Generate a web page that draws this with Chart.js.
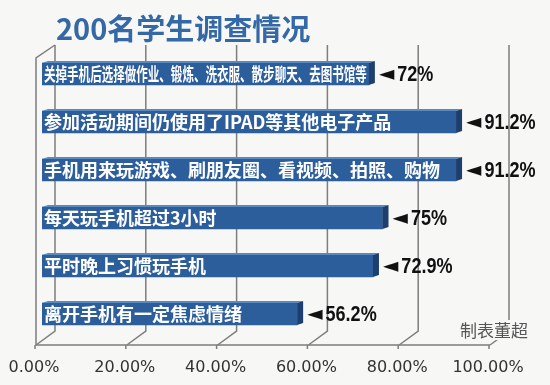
<!DOCTYPE html>
<html>
<head>
<meta charset="utf-8">
<script src="https://cdn.jsdelivr.net/npm/chart.js@4/dist/chart.umd.min.js"></script>
<style>
  html, body { margin: 0; padding: 0; background: #f7f7f5; }
  #wrap { width: 550px; height: 385px; position: relative; }
</style>
</head>
<body>
<div id="wrap"><canvas id="chart" width="550" height="385"></canvas></div>
<script>
// 数据
const title = '200名学生调查情况';
const categories = [
  '关掉手机后选择做作业、锻炼、洗衣服、散步聊天、去图书馆等',
  '参加活动期间仍使用了IPAD等其他电子产品',
  '手机用来玩游戏、刷朋友圈、看视频、拍照、购物',
  '每天玩手机超过3小时',
  '平时晚上习惯玩手机',
  '离开手机有一定焦虑情绪'
];
const values = [72, 91.2, 91.2, 75, 72.9, 56.2];
const valueLabels = ['72%', '91.2%', '91.2%', '75%', '72.9%', '56.2%'];
const tickValues = [0, 20, 40, 60, 80, 100];
const tickLabels = ['0.00%', '20.00%', '40.00%', '60.00%', '80.00%', '100.00%'];
const credit = '制表董超';

const BAR_FRONT = '#2d5e9c';
const BAR_SIDE = '#1c3f6e';
const BAR_TOP = '#5c88c0';
const GRID = '#7e7e7e';
const DEPTH_X = 6, DEPTH_Y = 2;

// 背景墙、网格线、坐标轴
const wallPlugin = {
  id: 'wall3d',
  beforeDatasetsDraw(chart) {
    const ctx = chart.ctx;
    const xs = chart.scales.x;
    const { top, bottom } = chart.chartArea;
    const backTop = top - 5;
    const backBottom = bottom - 7;
    const frontY = bottom + 7;
    ctx.save();
    ctx.strokeStyle = GRID;
    ctx.lineWidth = 1.5;
    tickValues.forEach(v => {
      const px = xs.getPixelForValue(v);
      ctx.beginPath();
      ctx.moveTo(px + 13, backTop);
      ctx.lineTo(px + 13, backBottom);
      ctx.lineTo(px - 6, frontY);
      ctx.stroke();
      // 小刻度
      ctx.beginPath();
      ctx.moveTo(px - 7, frontY);
      ctx.lineTo(px - 7, frontY + 4);
      ctx.stroke();
    });
    const x0 = xs.getPixelForValue(0);
    const x1 = xs.getPixelForValue(100);
    // 左墙
    ctx.beginPath();
    ctx.moveTo(x0 + 13, backTop);
    ctx.lineTo(x0 - 6, backTop + 13);
    ctx.lineTo(x0 - 6, frontY);
    ctx.lineTo(x1 - 6, frontY);
    ctx.stroke();
    ctx.restore();
  },
  afterDatasetsDraw(chart) {
    const ctx = chart.ctx;
    const meta = chart.getDatasetMeta(0);
    ctx.save();
    meta.data.forEach((bar, i) => {
      const h = bar.height;
      const t = bar.y - h / 2;
      const b = bar.y + h / 2;
      const x = bar.x;
      const base = bar.base;
      // 顶面
      ctx.fillStyle = BAR_TOP;
      ctx.beginPath();
      ctx.moveTo(base, t);
      ctx.lineTo(base + DEPTH_X, t - DEPTH_Y);
      ctx.lineTo(x + DEPTH_X, t - DEPTH_Y);
      ctx.lineTo(x, t);
      ctx.closePath();
      ctx.fill();
      // 侧面
      ctx.fillStyle = BAR_SIDE;
      ctx.beginPath();
      ctx.moveTo(x, t);
      ctx.lineTo(x + DEPTH_X, t - DEPTH_Y);
      ctx.lineTo(x + DEPTH_X, b - DEPTH_Y);
      ctx.lineTo(x, b);
      ctx.closePath();
      ctx.fill();

      // 柱内文字
      ctx.fillStyle = '#ffffff';
      ctx.font = 'bold 18px "Noto Sans CJK SC", sans-serif';
      ctx.textBaseline = 'middle';
      ctx.textAlign = 'left';
      ctx.fillText(categories[i], base + 2, bar.y, x - base - 4);

      // 数值标签
      const lx = x + DEPTH_X + 4;
      ctx.fillStyle = '#111111';
      ctx.font = '20px "DejaVu Sans", sans-serif';
      ctx.fillText('◄', lx, bar.y + 1);
      const tw = ctx.measureText('◄').width;
      ctx.font = 'bold 22px "Liberation Sans", Arial, sans-serif';
      const vw = ctx.measureText(valueLabels[i]).width;
      ctx.fillText(valueLabels[i], lx + tw + 3, bar.y + 1, vw * 0.82);
    });

    // x轴标签
    const xs = chart.scales.x;
    const frontY = chart.chartArea.bottom + 7;
    ctx.fillStyle = '#333333';
    ctx.font = '16px "DejaVu Sans", sans-serif';
    ctx.textAlign = 'center';
    ctx.textBaseline = 'middle';
    tickValues.forEach((v, i) => {
      ctx.fillText(tickLabels[i], xs.getPixelForValue(v) - 8, frontY + 23);
    });

    // 制表
    ctx.font = '17px "Noto Sans CJK SC", sans-serif';
    ctx.textAlign = 'left';
    const cw = ctx.measureText(credit).width;
    ctx.fillStyle = '#f7f7f5';
    ctx.fillRect(458, 320, cw + 4, 20);
    ctx.fillStyle = '#555555';
    ctx.fillText(credit, 460, 331);

    // 标题
    ctx.fillStyle = '#3468a6';
    ctx.font = 'bold 29px "Noto Sans CJK SC", sans-serif';
    ctx.textBaseline = 'alphabetic';
    ctx.fillText(title, 56, 40);
    ctx.restore();
  }
};

new Chart(document.getElementById('chart'), {
  type: 'bar',
  data: {
    labels: categories,
    datasets: [{
      data: values,
      backgroundColor: BAR_FRONT,
      barThickness: 22,
      borderWidth: 0
    }]
  },
  options: {
    indexAxis: 'y',
    responsive: false,
    devicePixelRatio: 1,
    animation: false,
    layout: { padding: { left: 42, right: 54, top: 50, bottom: 47 } },
    plugins: { legend: { display: false }, tooltip: { enabled: false } },
    scales: {
      x: { display: false, min: 0, max: 100 },
      y: { display: false }
    }
  },
  plugins: [wallPlugin]
});
</script>
</body>
</html>
